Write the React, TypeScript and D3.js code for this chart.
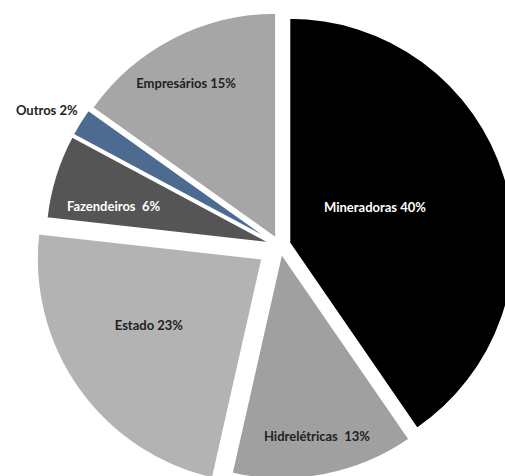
import React from "react";
import * as d3 from "d3";

const categories = ["Mineradoras", "Hidrelétricas", "Estado", "Fazendeiros", "Outros", "Empresários"];
const values = [40, 13, 23, 6, 2, 15];
const labels = ["Mineradoras 40%", "Hidrelétricas  13%", "Estado 23%", "Fazendeiros  6%", "Outros 2%", "Empresários 15%"];

// styling
const colors = ["#000000", "#a0a0a0", "#b3b3b3", "#555555", "#4d6a90", "#a6a6a6"];
const textColors = ["#ffffff", "#222222", "#222222", "#ffffff", "#222222", "#222222"];
const explode = [10, 8, 22, 10, 10, 9];
const labelRadius = [92, 187, 132, 161, 259, 178];
const labelAngleShift = [-4.5, 0, 4.5, -4.4, -2, -3];

const W = 505;
const H = 476;
const CX = 280;
const CY = 246;
const R = 225;

export default function App() {
  const pie = d3.pie<number>().value((d) => d).sort(null);
  const arcs = pie(values);
  const arcGen = d3.arc<d3.PieArcDatum<number>>().innerRadius(0).outerRadius(R);

  return (
    <svg
      width={W}
      height={H}
      style={{ position: "absolute", left: 0, top: 0, background: "#fff" }}
    >
      {arcs.map((a, i) => {
        const mid = (a.startAngle + a.endAngle) / 2;
        const ox = Math.sin(mid) * explode[i];
        const oy = -Math.cos(mid) * explode[i];
        const la = mid + (labelAngleShift[i] * Math.PI) / 180;
        const lx = ox + Math.sin(la) * labelRadius[i];
        const ly = oy - Math.cos(la) * labelRadius[i];
        return (
          <g key={categories[i]} transform={`translate(${CX},${CY})`}>
            <path
              d={arcGen(a) || ""}
              transform={`translate(${ox},${oy})`}
              fill={colors[i]}
              stroke="#ffffff"
              strokeWidth={1.5}
              strokeLinejoin="round"
            />
            <text
              x={lx}
              y={ly}
              textAnchor="middle"
              dominantBaseline="middle"
              fill={textColors[i]}
              style={{
                fontFamily: "Lato, 'Open Sans', sans-serif",
                fontWeight: 700,
                fontSize: 13,
                whiteSpace: "pre",
              }}
            >
              {labels[i]}
            </text>
          </g>
        );
      })}
    </svg>
  );
}
